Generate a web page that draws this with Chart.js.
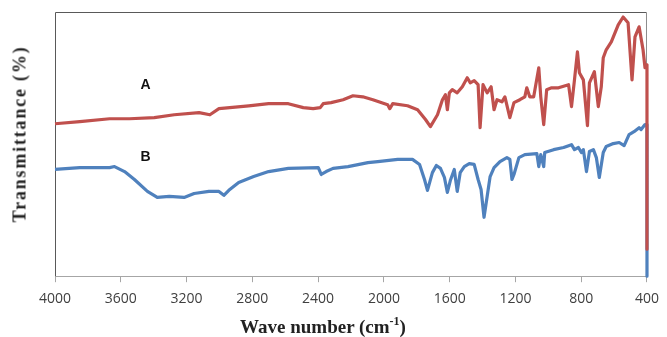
<!DOCTYPE html>
<html>
<head>
<meta charset="utf-8">
<script src="https://cdn.jsdelivr.net/npm/chart.js@4.4.1/dist/chart.umd.min.js"></script>
<style>
    body { margin: 0; background: #fff; }
    #wrap { position: relative; width: 667px; height: 337px; }
    .ytitle {
        position: absolute; left: 20px; top: 134px;
        transform: translate(-50%, -50%) rotate(-90deg);
        font: bold 18px "Liberation Serif", "Times New Roman", serif;
        letter-spacing: 1.8px; white-space: nowrap; color: #222;
    }
    .xtitle {
        position: absolute; left: 323px; top: 326px;
        transform: translate(-50%, -50%);
        font: bold 19px "Liberation Serif", "Times New Roman", serif;
        white-space: nowrap; color: #222;
    }
    .xtitle sup { font-size: 12px; }
</style>
</head>
<body>
<div id="wrap">
    <canvas id="irChart"></canvas>
    <div class="ytitle">Transmittance (%)</div>
    <div class="xtitle">Wave number (cm<sup>-1</sup>)</div>
</div>
<script>
// spectrum A (red)
const waveA = [4000, 3849, 3668, 3547, 3396, 3275, 3124, 3058, 3003, 2822, 2701, 2581, 2490, 2430, 2387, 2369,
    2321, 2248, 2188, 2128, 2067, 1977, 1964, 1946, 1856, 1795, 1747, 1717, 1674, 1644, 1626, 1614, 1602, 1584,
    1554, 1523, 1493, 1475, 1451, 1427, 1415, 1397, 1372, 1348, 1330, 1312, 1282, 1264, 1234, 1209, 1173, 1143,
    1131, 1113, 1089, 1058, 1046, 1028, 1010, 980, 938, 877, 859, 841, 823, 811, 787, 762, 750, 720, 696, 678,
    666, 648, 617, 575, 545, 515, 491, 473, 448, 424, 412, 400, 400];
const transA = [57.7, 58.5, 59.6, 59.6, 60.0, 61.1, 61.9, 61.1, 63.4, 64.5, 65.3, 65.3, 63.8, 63.4, 63.8, 65.3,
    65.7, 66.8, 68.3, 67.9, 66.8, 64.9, 63.4, 65.3, 64.5, 63.0, 59.3, 56.6, 61.1, 66.8, 68.7, 63.0, 69.4, 70.6,
    69.4, 71.7, 75.1, 73.2, 74.0, 72.5, 56.2, 72.5, 69.4, 71.7, 63.0, 66.8, 66.0, 67.9, 60.0, 65.7, 66.8, 67.9,
    71.3, 67.9, 67.9, 78.9, 67.9, 57.4, 70.6, 71.3, 71.3, 72.5, 64.2, 74.3, 84.9, 77.0, 74.3, 57.0, 73.2, 77.4,
    64.2, 71.7, 82.7, 85.7, 88.7, 95.1, 98.1, 95.9, 74.3, 90.6, 94.4, 85.7, 78.9, 80.0, 10.2];

// spectrum B (blue)
const waveB = [4000, 3849, 3668, 3638, 3577, 3517, 3438, 3378, 3305, 3215, 3154, 3064, 3003, 2973, 2943, 2883,
    2792, 2701, 2581, 2399, 2381, 2351, 2309, 2218, 2097, 2037, 1916, 1826, 1783, 1753, 1735, 1705, 1681, 1656,
    1632, 1614, 1596, 1572, 1554, 1536, 1511, 1481, 1451, 1427, 1409, 1391, 1372, 1354, 1330, 1294, 1252, 1234,
    1221, 1209, 1179, 1143, 1070, 1058, 1046, 1028, 1022, 968, 907, 859, 841, 817, 799, 787, 768, 750, 726, 708,
    690, 666, 648, 605, 569, 539, 509, 479, 448, 436, 412, 400, 400];
const transB = [40.4, 41.1, 41.1, 41.5, 39.6, 36.6, 32.1, 29.8, 30.2, 29.8, 31.3, 32.1, 32.1, 30.6, 32.5, 35.5,
    37.7, 39.6, 40.8, 41.1, 38.5, 39.6, 40.8, 41.5, 43.0, 43.4, 44.2, 44.2, 42.3, 36.6, 32.5, 39.2, 41.9, 40.8,
    37.4, 31.7, 36.2, 40.4, 32.1, 39.2, 41.5, 42.6, 42.3, 36.6, 32.8, 22.3, 30.2, 37.7, 41.1, 43.4, 44.9, 44.2,
    36.6, 38.5, 44.9, 46.0, 46.4, 41.5, 46.0, 41.5, 46.8, 47.9, 48.7, 49.8, 47.9, 48.7, 46.8, 47.9, 39.6, 47.2,
    47.9, 44.9, 37.4, 46.8, 49.1, 50.2, 50.6, 49.4, 53.6, 54.7, 56.2, 55.5, 57.4, 57.4, 0];

const xTicks = [4000, 3600, 3200, 2800, 2400, 2000, 1600, 1200, 800, 400];

// curve labels placed in data coordinates
const curveLabels = [
    { text: 'A', x: 3450, y: 72.5 },
    { text: 'B', x: 3450, y: 44.9 }
];

function toPoints(xs, ys) {
    return xs.map((x, i) => ({ x: x, y: ys[i] }));
}

const framePlugin = {
    id: 'frame',
    beforeDatasetsDraw(chart) {
        const ctx = chart.ctx;
        const a = chart.chartArea;
        ctx.save();
        ctx.lineWidth = 1;
        ctx.strokeStyle = '#595959';
        ctx.beginPath();
        ctx.moveTo(a.left + 0.5, a.bottom);
        ctx.lineTo(a.left + 0.5, a.top + 0.5);
        ctx.lineTo(a.right - 0.5, a.top + 0.5);
        ctx.stroke();
        ctx.strokeStyle = '#8c8c8c';
        ctx.beginPath();
        ctx.moveTo(a.right - 0.5, a.top + 0.5);
        ctx.lineTo(a.right - 0.5, a.bottom);
        ctx.stroke();
        ctx.restore();
    },
    afterDraw(chart) {
        const ctx = chart.ctx;
        ctx.save();
        ctx.fillStyle = '#111';
        ctx.font = 'bold 14px "Liberation Sans", Arial, sans-serif';
        ctx.textAlign = 'center';
        ctx.textBaseline = 'middle';
        curveLabels.forEach(l => {
            ctx.fillText(l.text, chart.scales.x.getPixelForValue(l.x), chart.scales.y.getPixelForValue(l.y));
        });
        ctx.restore();
    }
};

new Chart(document.getElementById('irChart'), {
    type: 'line',
    data: {
        datasets: [
            {
                label: 'A',
                data: toPoints(waveA, transA),
                borderColor: '#C0504D',
                borderWidth: 3.2,
                borderJoinStyle: 'round',
                pointRadius: 0,
                tension: 0,
                clip: false
            },
            {
                label: 'B',
                data: toPoints(waveB, transB),
                borderColor: '#4F81BD',
                borderWidth: 3.2,
                borderJoinStyle: 'round',
                pointRadius: 0,
                tension: 0,
                clip: false
            }
        ]
    },
    options: {
        responsive: true,
        maintainAspectRatio: false,
        animation: false,
        layout: { padding: { left: 55, right: 16, top: 12, bottom: 22 } },
        plugins: { legend: { display: false }, tooltip: { enabled: false } },
        scales: {
            x: {
                type: 'linear',
                reverse: true,
                min: 400,
                max: 4000,
                afterBuildTicks: axis => { axis.ticks = xTicks.map(v => ({ value: v })); },
                ticks: {
                    padding: 8,
                    color: '#404040',
                    font: { family: '"Open Sans", sans-serif', size: 14 },
                    callback: v => v
                },
                grid: { drawOnChartArea: false, drawTicks: true, tickLength: 6, color: '#a6a6a6' },
                border: { color: '#a6a6a6' }
            },
            y: { display: false, min: 0, max: 100 }
        }
    },
    plugins: [framePlugin]
});
</script>
</body>
</html>
